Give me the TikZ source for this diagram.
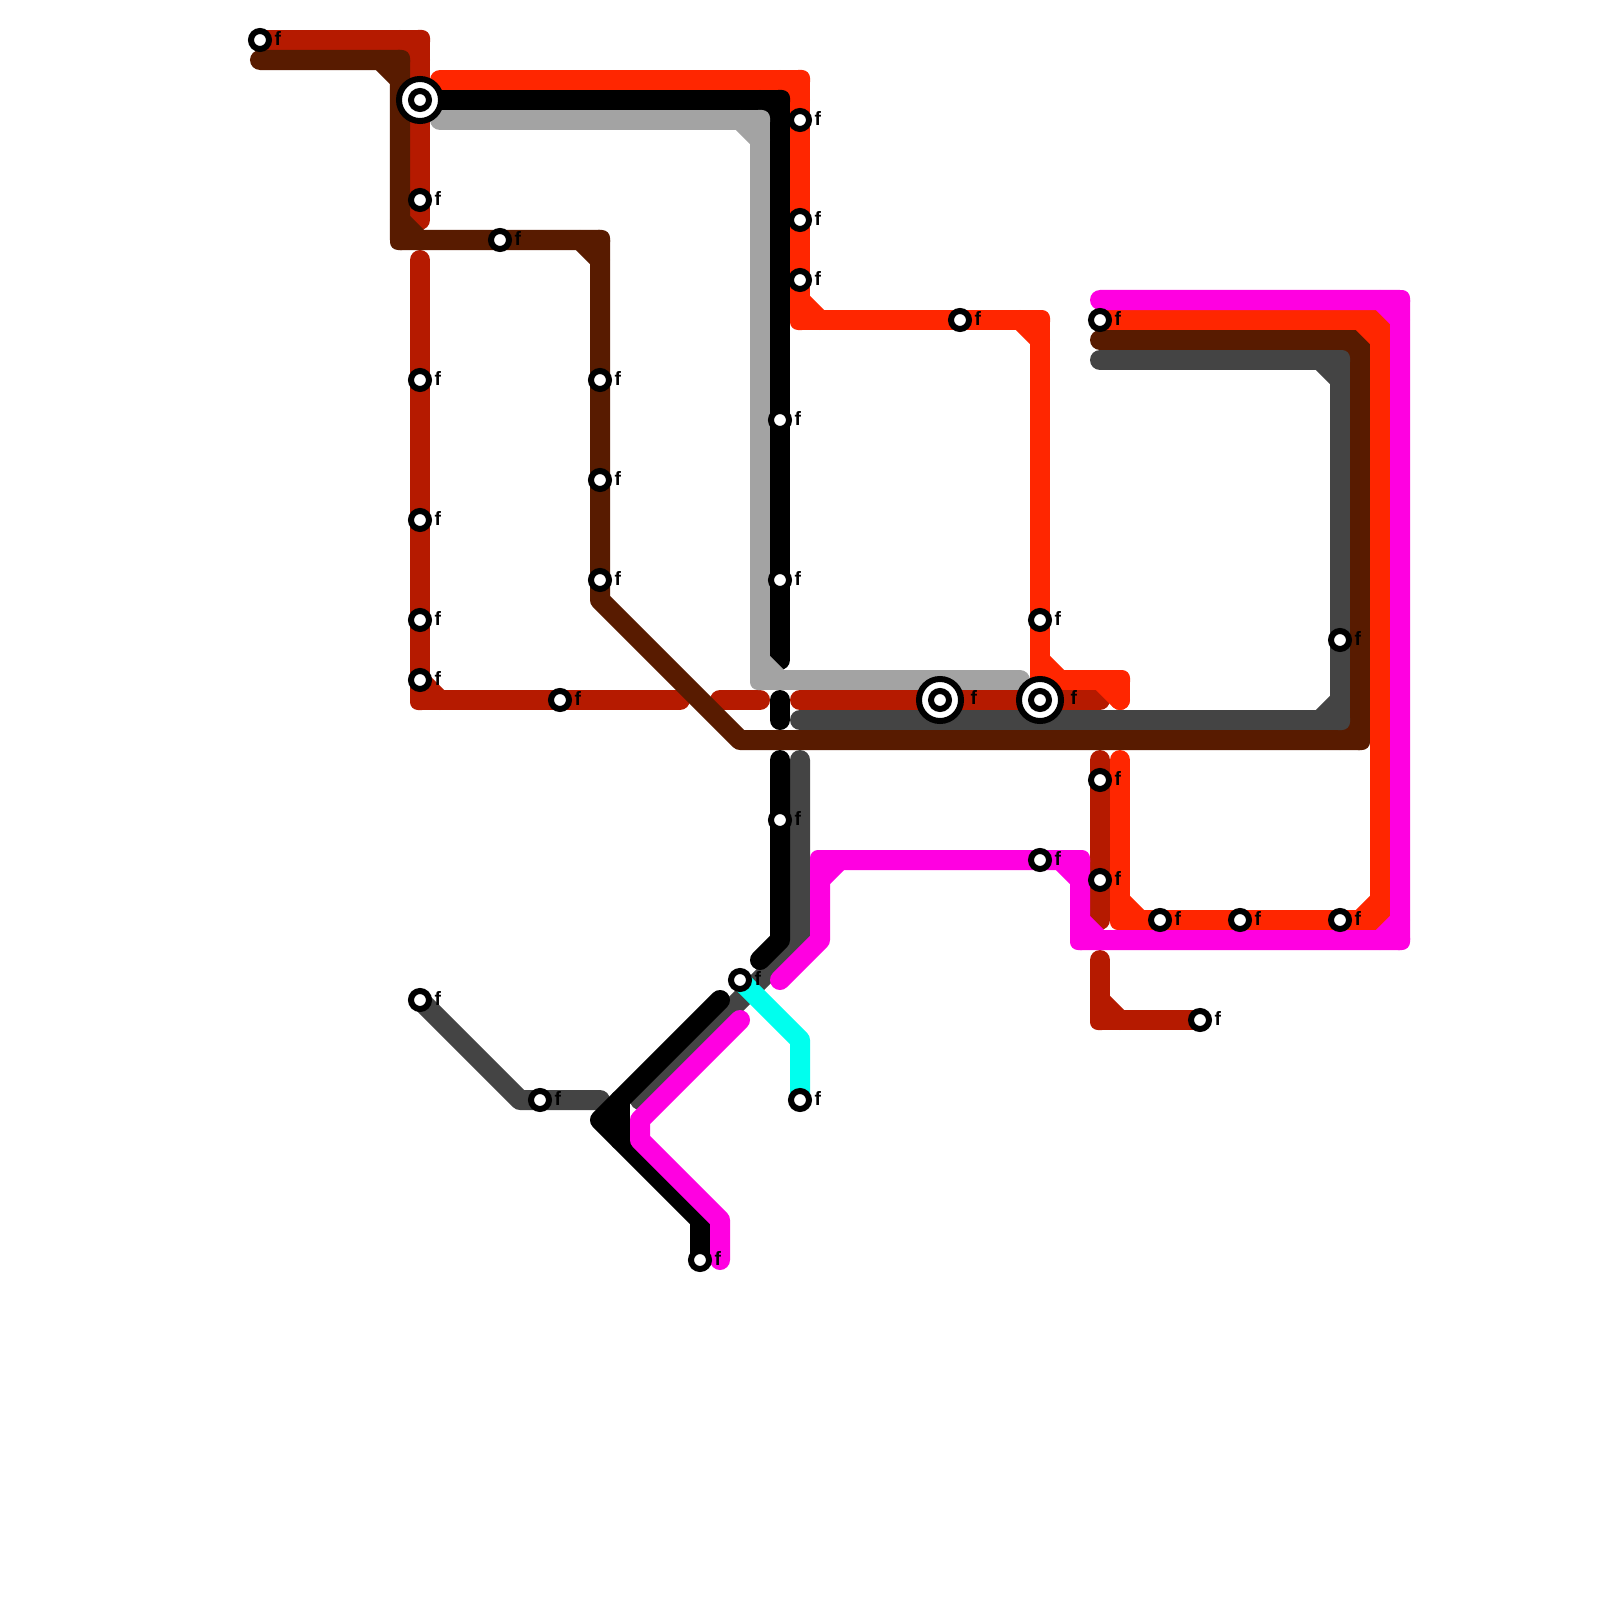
\documentclass[tikz,border=0pt]{standalone}
\usepackage{fontspec}
\setmainfont{Liberation Sans}
\usetikzlibrary{positioning, backgrounds}
\definecolor{linedarkred}{HTML}{B51A00}
\definecolor{linered}{HTML}{FF2600}
\definecolor{linebrown}{HTML}{581B00}
\definecolor{linegray}{HTML}{A3A3A3}
\definecolor{linedark}{HTML}{444444}
\definecolor{linepink}{HTML}{FF00E1}
\definecolor{linecyan}{HTML}{00FFEE}
\tikzset{
  metro/.style={line width=0.2cm, line cap=round, line join=round},
  stop/.style={circle, draw=black, fill=white, line width=0.06cm, minimum size=0.18cm, inner sep=0pt},
  hub/.style={circle, draw=black, fill=white, line width=0.06cm, minimum size=0.42cm, inner sep=0pt},
  stoptag/.style={inner sep=0pt, text=black, font=\bfseries\fontsize{5.5}{5.5}\selectfont, yshift=0.018cm}
}
% square corner piece and inner chamfer of a right-angle bend
\newcommand{\bendat}[4]{%
  \fill[#1, rounded corners=0.08cm] ([shift={(-10,-10)}]#2) rectangle ([shift={(10,10)}]#2);
  \draw[#1, metro] ([shift={({20*#3},0)}]#2) -- ([shift={(0,{20*#4})}]#2);
}
\begin{document}
\begin{tikzpicture}[x=0.01cm, y=-0.01cm]
\useasboundingbox (0,0) rectangle (1600,1600);

% Bends and free ends of the lines
\foreach \n/\x/\y in {dra1/420/40, dra2/420/220, drb1/420/260, drb2/420/700, drb3/680/700,
    drc1/720/700, drc2/760/700, drd1/800/700, drd2/1100/700, dre1/1100/760, dre2/1100/920,
    drf1/1100/960, drf2/1100/1020,
    bwn0/260/60, bwn1/400/60, bwn2/400/240, bwn3/600/240, bwn4/600/600, bwn5/740/740,
    bwn6/1360/740, bwn7/1360/340, bwn8/1100/340,
    rsa1/440/80, rsa2/800/80, rsa3/800/320, rsa4/1040/320, rsa5/1040/680, rsa6/1120/680, rsa7/1120/700,
    rsb1/1120/760, rsb2/1120/920, rsb3/1380/920, rsb4/1380/320,
    dga1/520/1100, dga2/600/1100, dgb1/800/760, dgb2/800/940, dgb3/640/1100,
    dgc1/1100/360, dgc2/1340/360, dgc3/1340/720, dgc4/800/720,
    bka1/780/100, bka2/780/660, bkb1/780/700, bkb2/780/720, bkc1/780/760, bkc2/780/940, bkc3/760/960,
    bkd1/720/1000, bkd2/600/1120, bkd3/700/1220, bks1/620/1100, bks2/620/1140,
    lgy1/440/120, lgy2/760/120, lgy3/760/680, lgy4/1020/680,
    mga1/1100/300, mga2/1400/300, mga3/1400/940, mga4/1080/940, mga5/1080/860, mga6/820/860,
    mga7/820/940, mga8/780/980,
    mgb1/740/1020, mgb2/640/1120, mgb3/640/1140, mgb4/720/1220, mgb5/720/1260,
    cyn1/800/1040}
  \coordinate (\n) at (\x,\y);

% Stations
\foreach \n/\x/\y in {sr1/260/40, sr2/420/200, sr3/420/380, sr4/420/520, sr5/420/620, sr6/420/680,
    sr7/560/700, sr8/1100/780, sr9/1100/880, sr10/1200/1020,
    sb1/500/240, sb2/600/380, sb3/600/480, sb4/600/580,
    so1/800/120, so2/800/220, so3/800/280, so4/960/320, so5/1040/620, so6/1100/320,
    so7/1160/920, so8/1240/920, so9/1340/920,
    sk1/780/420, sk2/780/580, sk3/780/820, sk4/700/1260,
    sd1/1340/640, sd2/420/1000, sd3/540/1100,
    sm1/1040/860, sc1/740/980, sc2/800/1100}{
  \node[stop] (\n) at (\x,\y) {};
  \node[stoptag, right=0.02cm of \n] (\n-tag) {f};
}
\node[hub] (hub1) at (420,100) {};
\node[stop] (hub1-in) at (hub1.center) {};
\foreach \n/\x in {hub2/940, hub3/1040}{
  \node[hub] (\n) at (\x,700) {};
  \node[stop] (\n-in) at (\n.center) {};
  \node[stoptag, right=0.06cm of \n, yshift=0.012cm] (\n-tag) {f};
}

\begin{scope}[on background layer]
% Dark red
\draw[linedarkred, metro] (sr1.center) -- (dra1) -- (sr2.center) -- (dra2);
\draw[linedarkred, metro] (drb1) -- (sr3.center) -- (sr6.center) -- (drb2) -- (sr7.center) -- (drb3);
\draw[linedarkred, metro] (drc1) -- (drc2);
\draw[linedarkred, metro] (drd1) -- (drd2);
\draw[linedarkred, metro] (dre1) -- (dre2);
\draw[linedarkred, metro] (drf1) -- (drf2) -- (sr10.center);
\foreach \p/\u/\v in {dra1/-1/1, drb2/1/-1, drf2/1/-1}{
  \bendat{linedarkred}{\p}{\u}{\v}
}

% Brown
\draw[linebrown, metro] (bwn0) -- (bwn1) -- (bwn2) -- (sb1.center) -- (bwn3) -- (bwn4) -- (bwn5)
  -- (bwn6) -- (bwn7) -- (bwn8);
\foreach \p/\u/\v in {bwn1/-1/1, bwn2/1/-1, bwn3/-1/1, bwn6/-1/-1, bwn7/-1/1}{
  \bendat{linebrown}{\p}{\u}{\v}
}

% Red
\draw[linered, metro] (rsa1) -- (rsa2) -- (rsa3) -- (so4.center) -- (rsa4) -- (rsa5) -- (rsa6) -- (rsa7);
\draw[linered, metro] (rsb1) -- (rsb2) -- (rsb3) -- (rsb4) -- (so6.center);
\foreach \p/\u/\v in {rsa2/-1/1, rsa3/1/-1, rsa4/-1/1, rsa5/1/-1, rsa6/-1/1, rsb2/1/-1, rsb3/-1/-1, rsb4/-1/1}{
  \bendat{linered}{\p}{\u}{\v}
}

% Dark gray
\draw[linedark, metro] (sd2.center) -- (dga1) -- (sd3.center) -- (dga2);
\draw[linedark, metro] (dgb1) -- (dgb2) -- (dgb3);
\draw[linedark, metro] (dgc1) -- (dgc2) -- (sd1.center) -- (dgc3) -- (dgc4);
\foreach \p/\u/\v in {dgc2/-1/1, dgc3/-1/-1}{
  \bendat{linedark}{\p}{\u}{\v}
}

% Black
\draw[black, metro] (hub1.center) -- (bka1) -- (sk1.center) -- (sk2.center) -- (bka2);
\draw[black, metro] (bkb1) -- (bkb2);
\draw[black, metro] (bkc1) -- (sk3.center) -- (bkc2) -- (bkc3);
\draw[black, metro] (bkd1) -- (bkd2) -- (bkd3) -- (sk4.center);
\draw[black, metro] (bks1) -- (bks2);
\bendat{black}{bka1}{-1}{1}

% Light gray
\draw[linegray, metro] (lgy1) -- (lgy2) -- (lgy3) -- (lgy4);
\foreach \p/\u/\v in {lgy2/-1/1, lgy3/1/-1}{
  \bendat{linegray}{\p}{\u}{\v}
}

% Magenta
\draw[linepink, metro] (mga1) -- (mga2) -- (mga3) -- (mga4) -- (mga5) -- (sm1.center) -- (mga6) -- (mga7) -- (mga8);
\draw[linepink, metro] (mgb1) -- (mgb2) -- (mgb3) -- (mgb4) -- (mgb5);
\foreach \p/\u/\v in {mga2/-1/1, mga3/-1/-1, mga4/1/-1, mga5/-1/1, mga6/1/1}{
  \bendat{linepink}{\p}{\u}{\v}
}

% Cyan
\draw[linecyan, metro] (sc1.center) -- (cyn1) -- (sc2.center);
\end{scope}

\end{tikzpicture}
\end{document}
